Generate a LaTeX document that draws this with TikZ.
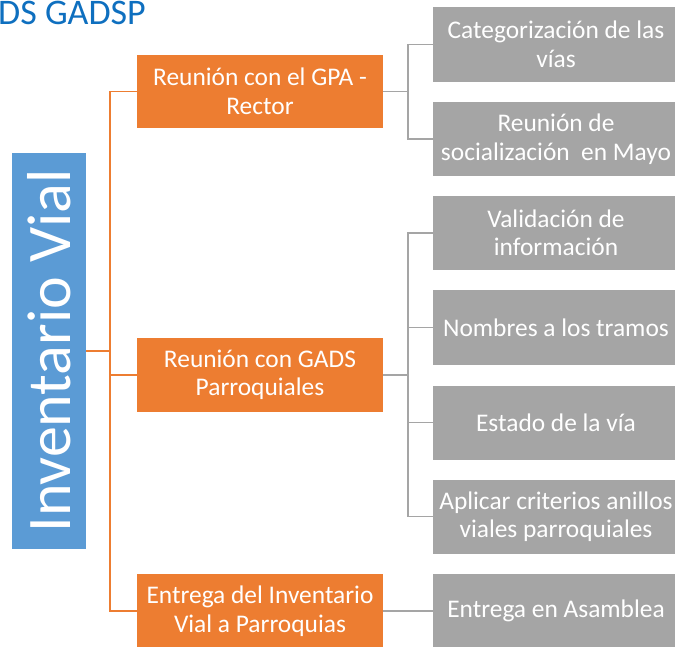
\documentclass[tikz,border=0pt]{standalone}
\usepackage{fontspec}
\setmainfont{Carlito}

\begin{document}
\begin{tikzpicture}[x=1pt,y=-1pt,
    boxtxt/.style={text=white,align=center,inner sep=0pt,font=\fontsize{25.4}{28.5}\selectfont},
    stepbox/.style={boxtxt,shape=rectangle,fill=inv_orange,minimum width=246pt,minimum height=74pt},
    taskbox/.style={boxtxt,shape=rectangle,fill=inv_gray,minimum width=246pt,minimum height=74pt},
    olink/.style={draw=inv_orange,line width=1.6pt},
    glink/.style={draw=inv_gray,line width=1.6pt}]
    \definecolor{inv_blue}{RGB}{91,155,213}
    \definecolor{inv_orange}{RGB}{237,125,49}
    \definecolor{inv_gray}{RGB}{165,165,165}
    \definecolor{inv_title}{RGB}{14,111,191}

    \useasboundingbox (0,0) rectangle (675,647);
    \clip (0,0) rectangle (675,647);

    \node[anchor=base west,inner sep=0pt,text=inv_title,font=\fontsize{36}{40}\selectfont] (title) at (-2,25) {DS GADSP};

    \node[shape=rectangle,fill=inv_blue,minimum width=74pt,minimum height=396pt] (inv) at (49,351) {};
    \node[rotate=90,text=white,inner sep=0pt,font=\fontsize{62}{62}\selectfont] (invtxt) at (inv.center) {Inventario Vial};

    \node[stepbox,minimum height=73pt] (r1) at (260,91.5) {Reunión con el GPA -\\Rector};
    \node[stepbox] (r2) at (260,375) {Reunión con GADS\\Parroquiales};
    \node[stepbox] (r3) at (260,611) {Entrega del Inventario\\Vial a Parroquias};

    \node[taskbox,minimum height=75pt] (c1) at (556,44.5) {Categorización de las\\vías};
    \node[taskbox] (c2) at (556,139) {Reunión de\\socialización\ \ en Mayo};
    \node[taskbox] (c3) at (556,233) {Validación de\\información};
    \node[taskbox] (c4) at (556,327.5) {Nombres a los tramos};
    \node[taskbox] (c5) at (556,422.5) {Estado de la vía};
    \node[taskbox] (c6) at (556,516.5) {Aplicar criterios anillos\\viales parroquiales};
    \node[taskbox] (c7) at (556,611) {Entrega en Asamblea};

    % orange tree
    \coordinate (obus) at (110,351);
    \draw[olink] (inv.east) -- (obus);
    \draw[olink] (obus) |- (r1.west);
    \draw[olink] (obus) |- (r2.west);
    \draw[olink] (obus) |- (r3.west);

    % gray trees
    \draw[glink] (r1.east) -- ++(25,0) coordinate (g1);
    \draw[glink] (g1) |- (c1.west);
    \draw[glink] (g1) |- (c2.west);
    \draw[glink] (r2.east) -- ++(25,0) coordinate (g2);
    \draw[glink] (g2) |- (c3.west);
    \draw[glink] (g2) |- (c4.west);
    \draw[glink] (g2) |- (c5.west);
    \draw[glink] (g2) |- (c6.west);
    \draw[glink] (r3.east) -- (c7.west);

\end{tikzpicture}
\end{document}
